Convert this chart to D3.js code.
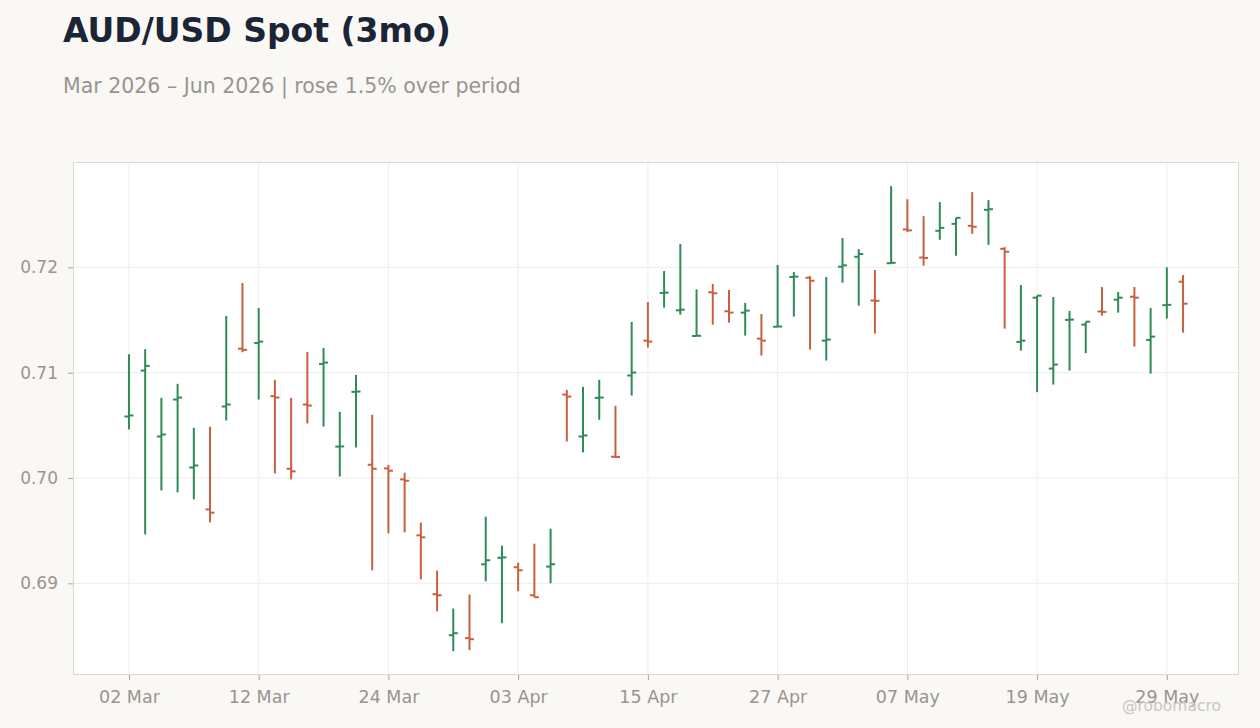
<!DOCTYPE html>
<html>
<head>
<meta charset="utf-8">
<script src="https://cdn.jsdelivr.net/npm/d3@7"></script>
<style>
  body { margin: 0; background: #f9f8f5; }
  svg { display: block; font-family: "DejaVu Sans", sans-serif; }
</style>
</head>
<body>
<div id="chart"></div>
<script>
// trading days, Mar 2 - Jun 1 2026
const dates = [
  "2026-03-02","2026-03-03","2026-03-04","2026-03-05","2026-03-06",
  "2026-03-09","2026-03-10","2026-03-11","2026-03-12","2026-03-13",
  "2026-03-16","2026-03-17","2026-03-18","2026-03-19","2026-03-20",
  "2026-03-23","2026-03-24","2026-03-25","2026-03-26","2026-03-27",
  "2026-03-30","2026-03-31","2026-04-01","2026-04-02","2026-04-03",
  "2026-04-06","2026-04-07","2026-04-08","2026-04-09","2026-04-10",
  "2026-04-13","2026-04-14","2026-04-15","2026-04-16","2026-04-17",
  "2026-04-20","2026-04-21","2026-04-22","2026-04-23","2026-04-24",
  "2026-04-27","2026-04-28","2026-04-29","2026-04-30","2026-05-01",
  "2026-05-04","2026-05-05","2026-05-06","2026-05-07","2026-05-08",
  "2026-05-11","2026-05-12","2026-05-13","2026-05-14","2026-05-15",
  "2026-05-18","2026-05-19","2026-05-20","2026-05-21","2026-05-22",
  "2026-05-25","2026-05-26","2026-05-27","2026-05-28","2026-05-29",
  "2026-06-01"
];
const opens = [
  0.70584,0.71020,0.70394,0.70745,0.70100,0.69702,0.70679,0.71228,0.71282,0.70777,
  0.70088,0.70698,0.71083,0.70298,0.70818,0.70126,0.70091,0.69987,0.69456,0.68897,
  0.68508,0.68480,0.69181,0.69243,0.69153,0.68887,0.69159,0.70792,0.70394,0.70761,
  0.70202,0.70973,0.71304,0.71757,0.71592,0.71348,0.71763,0.71583,0.71570,0.71323,
  0.71436,0.71909,0.71901,0.71304,0.72006,0.72100,0.71685,0.72039,0.72360,0.72093,
  0.72347,0.72413,0.72394,0.72546,0.72176,0.71292,0.71712,0.71039,0.71501,0.71456,
  0.71581,0.71693,0.71721,0.71311,0.71641,0.71864
];
const highs = [
  0.71175,0.71223,0.70761,0.70894,0.70477,0.70486,0.71538,0.71851,0.71614,0.70932,
  0.70761,0.71197,0.71235,0.70628,0.70979,0.70600,0.70126,0.70050,0.69576,0.69121,
  0.68761,0.68894,0.69633,0.69358,0.69197,0.69377,0.69519,0.70837,0.70865,0.70932,
  0.70685,0.71482,0.71671,0.71965,0.72221,0.71791,0.71842,0.71785,0.71662,0.71557,
  0.72022,0.71955,0.71918,0.71908,0.72278,0.72173,0.71974,0.72771,0.72647,0.72486,
  0.72619,0.72470,0.72714,0.72638,0.72192,0.71832,0.71731,0.71718,0.71586,0.71484,
  0.71813,0.71766,0.71813,0.71614,0.72000,0.71927
];
const lows = [
  0.70461,0.69465,0.69882,0.69864,0.69797,0.69579,0.70546,0.71194,0.70745,0.70044,
  0.69987,0.70518,0.70489,0.70015,0.70290,0.69124,0.69475,0.69484,0.69039,0.68735,
  0.68356,0.68366,0.69020,0.68622,0.68925,0.68866,0.69001,0.70347,0.70243,0.70553,
  0.70190,0.70783,0.71238,0.71617,0.71551,0.71346,0.71456,0.71475,0.71352,0.71162,
  0.71434,0.71532,0.71219,0.71115,0.71854,0.71636,0.71371,0.72037,0.72337,0.72015,
  0.72262,0.72110,0.72318,0.72214,0.71418,0.71209,0.70815,0.70887,0.71020,0.71185,
  0.71541,0.71570,0.71247,0.70991,0.71513,0.71380
];
const closes = [
  0.70594,0.71064,0.70413,0.70764,0.70119,0.69671,0.70698,0.71216,0.71295,0.70764,
  0.70063,0.70688,0.71096,0.70300,0.70821,0.70088,0.70069,0.69974,0.69437,0.68887,
  0.68527,0.68470,0.69219,0.69246,0.69124,0.68868,0.69181,0.70773,0.70404,0.70764,
  0.70199,0.71001,0.71295,0.71760,0.71598,0.71350,0.71754,0.71570,0.71589,0.71304,
  0.71438,0.71912,0.71873,0.71314,0.72019,0.72126,0.71682,0.72043,0.72351,0.72089,
  0.72375,0.72470,0.72385,0.72552,0.72148,0.71304,0.71731,0.71077,0.71504,0.71484,
  0.71577,0.71712,0.71712,0.71342,0.71644,0.71655
];
const yTicks = [0.69, 0.70, 0.71, 0.72];
const yDomain = [0.6813, 0.7300];
const TICK_EVERY = 8;

const width = 1260, height = 728;
const plot = {left: 73, right: 1239, top: 162, bottom: 675};
const UP = "#2e8b57", DOWN = "#c8603f";

let svg = d3.select("#chart").append("svg")
  .attr("width", width)
  .attr("height", height);

svg.append("rect")
  .attr("width", width).attr("height", height)
  .attr("fill", "#f9f8f5");

let x = d3.scalePoint()
  .domain(dates)
  .range([plot.left, plot.right])
  .padding(3.45);

let y = d3.scaleLinear()
  .domain(yDomain)
  .range([plot.bottom, plot.top]);

let parse = d3.timeParse("%Y-%m-%d");
let fmt = d3.timeFormat("%d %b");
let xTickVals = dates.filter((d, i) => i % TICK_EVERY === 0);

// plot background
svg.append("rect")
  .attr("x", plot.left).attr("y", plot.top)
  .attr("width", plot.right - plot.left)
  .attr("height", plot.bottom - plot.top)
  .attr("fill", "#ffffff");

// grid
svg.append("g").selectAll("line")
  .data(yTicks).join("line")
  .attr("x1", plot.left).attr("x2", plot.right)
  .attr("y1", d => y(d)).attr("y2", d => y(d))
  .attr("stroke", "#efedea").attr("stroke-width", 1);
svg.append("g").selectAll("line")
  .data(xTickVals).join("line")
  .attr("x1", d => x(d)).attr("x2", d => x(d))
  .attr("y1", plot.top).attr("y2", plot.bottom)
  .attr("stroke", "#efedea").attr("stroke-width", 1);

// axes
let xAxis = d3.axisBottom(x)
  .tickValues(xTickVals)
  .tickFormat(d => fmt(parse(d)))
  .tickSize(5).tickPadding(11);
let yAxis = d3.axisLeft(y)
  .tickValues(yTicks)
  .tickFormat(d3.format(".2f"))
  .tickSize(5).tickPadding(10);

let gx = svg.append("g")
  .attr("transform", "translate(0," + plot.bottom + ")")
  .call(xAxis);
let gy = svg.append("g")
  .attr("transform", "translate(" + plot.left + ",0)")
  .call(yAxis);
[gx, gy].forEach(g => {
  g.select(".domain").remove();
  g.selectAll(".tick line").attr("stroke", "#aaa49e");
  g.selectAll(".tick text")
    .attr("fill", "#99948e")
    .attr("font-family", "DejaVu Sans, sans-serif");
});
gx.selectAll(".tick text").attr("font-size", "17.5px");
gy.selectAll(".tick text").attr("font-size", "17px");

// plot border
svg.append("rect")
  .attr("x", plot.left + 0.5).attr("y", plot.top + 0.5)
  .attr("width", plot.right - plot.left - 1)
  .attr("height", plot.bottom - plot.top - 1)
  .attr("fill", "none")
  .attr("stroke", "#dcd7d2");

// OHLC bars
let bars = svg.append("g").selectAll("g")
  .data(dates).join("g")
  .attr("stroke", (d, i) => closes[i] >= opens[i] ? UP : DOWN)
  .attr("stroke-width", 2);
bars.append("line")
  .attr("x1", d => x(d)).attr("x2", d => x(d))
  .attr("y1", (d, i) => y(highs[i]))
  .attr("y2", (d, i) => y(lows[i]));
bars.append("line")
  .attr("x1", d => x(d) - 4.5).attr("x2", d => x(d))
  .attr("y1", (d, i) => y(opens[i]))
  .attr("y2", (d, i) => y(opens[i]));
bars.append("line")
  .attr("x1", d => x(d)).attr("x2", d => x(d) + 4.5)
  .attr("y1", (d, i) => y(closes[i]))
  .attr("y2", (d, i) => y(closes[i]));

// titles
let change = (closes[closes.length - 1] / opens[0] - 1) * 100;
svg.append("text")
  .attr("x", 63).attr("y", 42)
  .attr("font-size", "33px").attr("font-weight", "bold")
  .attr("fill", "#1b2536")
  .text("AUD/USD Spot (3mo)");
svg.append("text")
  .attr("x", 63).attr("y", 93)
  .attr("font-size", "20.5px")
  .attr("fill", "#99948e")
  .text("Mar 2026 \u2013 Jun 2026 | " + (change >= 0 ? "rose " : "fell ") + Math.abs(change).toFixed(1) + "% over period");

svg.append("text")
  .attr("x", 1221).attr("y", 711)
  .attr("text-anchor", "end")
  .attr("font-size", "15.5px")
  .attr("fill", "#c9c6c2")
  .text("@robomacro");
</script>
</body>
</html>
